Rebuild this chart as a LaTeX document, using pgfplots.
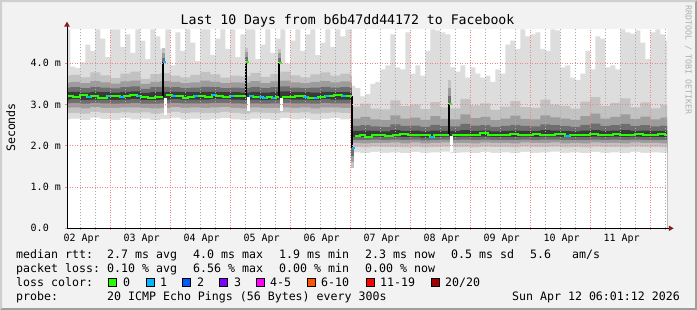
\documentclass[border=0pt]{standalone}
\usepackage{pgfplots}
\pgfplotsset{compat=1.18}
\usepackage{pgfplotstable}
\usepackage{fontspec}
\setmainfont{DejaVu Sans Mono}
\newcommand\legfont{\fontsize{11.6bp}{13bp}\selectfont}
\newcommand\tickfont{\fontsize{10bp}{12bp}\selectfont}
\newcommand\titlefont{\fontsize{13.2bp}{15bp}\selectfont}
\newcommand\smallfont{\fontsize{8.3bp}{10bp}\selectfont}

\definecolor{bgc}{HTML}{F2F2F2}
\definecolor{shadea}{HTML}{CFCFCF}
\definecolor{shadeb}{HTML}{9E9E9E}
\definecolor{arrowc}{HTML}{8B1A1A}
\definecolor{bandA}{HTML}{DDDDDD}
\definecolor{bandB}{HTML}{C2C2C2}
\definecolor{bandC}{HTML}{9C9C9C}
\definecolor{bandD}{HTML}{6E6E6E}
\definecolor{bandE}{HTML}{3A3A3A}
\definecolor{loss0}{HTML}{26FF00}
\definecolor{loss1}{HTML}{00B8FF}
\definecolor{loss2}{HTML}{0059FF}
\definecolor{loss3}{HTML}{7E00FF}
\definecolor{loss5}{HTML}{FF00FF}
\definecolor{loss10}{HTML}{FF5500}
\definecolor{loss19}{HTML}{FF0000}
\definecolor{loss20}{HTML}{A00000}
\definecolor{gridc}{HTML}{ABABAB}
\definecolor{mgridc}{HTML}{EE8888}
\definecolor{rrdc}{HTML}{B0B0B0}

\pgfplotsset{medline/.style={loss0, line width=2bp, const plot, mark=none}}

% smoke percentiles (ms), hours since 02 Apr 00:00
\pgfplotstableread{
h     p1   p3   p5   p7   p9   p12  p14  p16  p18
4     2.64 2.79 2.92 3.03 3.12 3.30 3.41 3.53 3.70
8     2.66 2.80 2.93 3.04 3.13 3.31 3.42 3.55 3.72
12    2.62 2.78 2.91 3.02 3.11 3.29 3.40 3.52 3.66
16    2.68 2.82 2.94 3.04 3.12 3.31 3.43 3.57 3.78
20    2.65 2.80 2.92 3.03 3.12 3.30 3.41 3.54 3.71
24    2.63 2.79 2.92 3.02 3.11 3.29 3.39 3.51 3.64
28    2.67 2.81 2.93 3.03 3.12 3.31 3.42 3.56 3.75
32    2.64 2.80 2.93 3.04 3.13 3.32 3.44 3.58 3.80
36    2.66 2.81 2.92 3.02 3.11 3.28 3.38 3.50 3.62
40    2.62 2.78 2.91 3.02 3.11 3.30 3.42 3.55 3.74
44    2.65 2.80 2.92 3.03 3.12 3.31 3.43 3.57 3.76
48    2.68 2.82 2.94 3.04 3.13 3.31 3.42 3.55 3.70
52    2.64 2.79 2.92 3.03 3.12 3.30 3.40 3.52 3.66
56    2.66 2.81 2.93 3.03 3.12 3.30 3.41 3.54 3.72
60    2.63 2.79 2.92 3.03 3.12 3.31 3.43 3.58 3.79
64    2.65 2.80 2.93 3.04 3.13 3.31 3.42 3.55 3.73
68    2.67 2.82 2.94 3.04 3.13 3.30 3.40 3.52 3.65
72    2.64 2.80 2.92 3.03 3.12 3.30 3.41 3.54 3.70
76    2.62 2.78 2.91 3.02 3.11 3.29 3.40 3.53 3.68
80    2.66 2.81 2.93 3.03 3.12 3.31 3.43 3.57 3.77
84    2.65 2.80 2.92 3.02 3.11 3.29 3.40 3.52 3.67
88    2.63 2.79 2.92 3.03 3.12 3.30 3.42 3.56 3.74
92    2.67 2.81 2.93 3.04 3.13 3.32 3.44 3.58 3.80
96    2.64 2.80 2.92 3.03 3.12 3.30 3.41 3.54 3.71
100   2.66 2.81 2.93 3.03 3.12 3.30 3.40 3.52 3.66
104   2.62 2.78 2.91 3.02 3.11 3.29 3.41 3.55 3.73
108   2.65 2.80 2.93 3.04 3.13 3.31 3.43 3.57 3.78
112   2.67 2.81 2.93 3.03 3.12 3.30 3.41 3.54 3.70
116   2.64 2.79 2.92 3.03 3.12 3.30 3.42 3.56 3.75
120   2.66 2.80 2.92 3.03 3.12 3.30 3.41 3.53 3.69
120.6 1.84 1.97 2.07 2.14 2.21 2.36 2.48 2.66 2.95
124   1.82 1.96 2.06 2.14 2.21 2.37 2.50 2.70 3.02
128   1.85 1.98 2.07 2.15 2.22 2.36 2.47 2.64 2.90
132   1.83 1.97 2.07 2.14 2.21 2.35 2.46 2.62 2.88
136   1.84 1.97 2.08 2.15 2.22 2.38 2.52 2.74 3.10
140   1.82 1.96 2.06 2.14 2.21 2.36 2.48 2.66 2.96
144   1.85 1.98 2.08 2.15 2.22 2.37 2.49 2.68 3.00
148   1.83 1.96 2.06 2.13 2.20 2.35 2.46 2.63 2.89
152   1.84 1.97 2.07 2.14 2.21 2.37 2.51 2.72 3.06
156   1.86 1.98 2.08 2.15 2.22 2.36 2.48 2.65 2.93
160   1.83 1.97 2.07 2.14 2.21 2.36 2.47 2.64 2.91
164   1.84 1.97 2.07 2.15 2.22 2.38 2.53 2.76 3.14
168   1.82 1.96 2.06 2.14 2.21 2.36 2.49 2.67 2.98
172   1.85 1.98 2.08 2.15 2.22 2.37 2.50 2.70 3.03
176   1.83 1.97 2.07 2.14 2.21 2.35 2.46 2.62 2.87
180   1.84 1.97 2.07 2.14 2.21 2.36 2.48 2.66 2.95
184   1.82 1.96 2.06 2.14 2.21 2.37 2.51 2.73 3.08
188   1.85 1.98 2.08 2.15 2.22 2.36 2.48 2.65 2.94
192   1.83 1.97 2.07 2.14 2.21 2.36 2.47 2.64 2.92
196   1.84 1.97 2.07 2.15 2.22 2.38 2.52 2.74 3.12
200   1.86 1.98 2.08 2.15 2.22 2.37 2.50 2.69 3.00
204   1.83 1.96 2.06 2.14 2.21 2.36 2.48 2.66 2.96
208   1.84 1.97 2.07 2.14 2.21 2.35 2.46 2.63 2.90
212   1.82 1.96 2.06 2.14 2.21 2.37 2.51 2.72 3.07
216   1.85 1.98 2.08 2.15 2.22 2.38 2.54 2.78 3.18
220   1.83 1.97 2.07 2.14 2.21 2.36 2.48 2.66 2.97
224   1.84 1.97 2.07 2.15 2.22 2.37 2.50 2.70 3.04
228   1.82 1.96 2.06 2.14 2.21 2.38 2.53 2.76 3.15
232   1.85 1.98 2.08 2.15 2.22 2.36 2.48 2.65 2.93
236   1.83 1.97 2.07 2.14 2.21 2.37 2.50 2.71 3.05
240   1.84 1.97 2.07 2.14 2.21 2.36 2.47 2.64 2.91
244   1.83 1.96 2.06 2.14 2.21 2.36 2.49 2.68 2.99
248   1.83 1.96 2.06 2.14 2.21 2.36 2.49 2.68 2.99
}\smoke

% maximum rtt (top of the light smoke)
\pgfplotstableread{
h     mx
6     4.82
8     3.92
10    3.88
12    4.02
14    4.45
16    4.30
18    4.82
20    4.60
22    4.15
24    4.82
26    4.82
28    4.40
30    4.70
32    4.25
34    4.82
36    4.55
38    4.10
40    4.82
42    4.65
44    4.35
46    4.82
48    3.95
50    4.75
52    4.30
54    4.82
56    4.50
58    4.05
60    4.82
62    4.82
64    4.20
66    4.60
68    4.82
70    4.35
72    4.82
74    4.15
76    4.70
78    4.82
80    4.82
82    4.10
84    4.45
86    4.82
88    4.25
90    4.60
92    4.82
94    4.00
96    4.55
98    4.82
100   4.30
102   4.70
104   4.82
106   4.20
108   4.50
110   4.82
112   4.40
114   4.82
116   4.65
118   4.82
120.6 3.45
122   3.40
124   3.20
126   3.25
128   3.50
130   3.55
132   3.85
134   3.95
136   4.70
138   3.90
140   3.85
142   4.75
144   3.75
146   3.95
148   3.70
150   4.30
152   4.82
154   4.80
156   4.75
158   4.70
160   3.90
162   3.80
164   3.95
166   3.65
168   3.90
170   3.75
172   3.65
174   3.70
176   3.55
178   3.85
180   3.75
182   4.45
184   4.55
186   4.35
188   4.82
190   4.65
192   4.70
194   4.75
196   4.35
198   4.30
200   4.82
202   4.80
204   3.90
206   3.95
208   3.65
210   3.60
212   3.75
214   4.30
216   3.85
218   4.65
220   4.60
222   3.90
224   3.95
226   3.85
228   4.82
230   4.75
232   4.72
234   4.80
236   4.50
238   4.10
240   4.75
242   4.82
244   4.70
246   4.55
248   4.55
}\maxtab

% loss colour 1 pieces of the median line
\pgfplotstableread{
h m
14.7 3.19
16.2 3.19
nan nan
22.7 3.20
24.2 3.20
nan nan
27.9 3.19
29.4 3.19
nan nan
34.7 3.20
36.2 3.20
nan nan
45.0 4.02
46.4 4.02
nan nan
48.7 3.21
50.2 3.21
nan nan
57.5 3.20
59.0 3.20
nan nan
64.7 3.22
66.2 3.22
nan nan
71.9 3.21
73.4 3.21
nan nan
79.6 3.20
81.1 3.20
nan nan
83.5 3.18
85.0 3.18
nan nan
85.0 3.16
86.5 3.16
nan nan
88.7 3.17
90.2 3.17
nan nan
101.5 3.18
103.0 3.18
nan nan
105.5 3.16
107.0 3.16
nan nan
109.9 3.20
111.4 3.20
nan nan
116.7 3.20
118.2 3.20
nan nan
120.6 1.94
121.8 1.94
nan nan
151.9 2.22
153.5 2.22
nan nan
205.9 2.23
207.9 2.23
}\lossone

\begin{document}
\begin{tikzpicture}
\path[use as bounding box] (0,0) rectangle (697bp,-310bp);
\fill[bgc] (0,0) rectangle (697bp,-310bp);
\fill[shadea] (0,0) -- (697bp,0) -- (695bp,-2bp) -- (2bp,-2bp) -- (2bp,-308bp) -- (0,-310bp) -- cycle;
\fill[shadeb] (697bp,0) -- (697bp,-310bp) -- (0,-310bp) -- (2bp,-308bp) -- (695bp,-308bp) -- (695bp,-2bp) -- cycle;

\begin{axis}[
  at={(67bp,-228.3bp)}, anchor=south west,
  scale only axis, width=600bp, height=199bp,
  xmin=6.68, xmax=246.68, ymin=0, ymax=4.824,
  axis on top,
  axis background/.style={fill=white},
  axis lines*=left,
  axis line style={black, line width=1bp},
  tick align=outside,
  major tick length=2bp, minor tick length=2bp,
  tick style={gridc, line width=0.8bp},
  xtick={12,36,...,228},
  xticklabels={02 Apr,03 Apr,04 Apr,05 Apr,06 Apr,07 Apr,08 Apr,09 Apr,10 Apr,11 Apr},
  xticklabel style={font=\tickfont, xshift=1.4bp},
  minor xtick={18,30,...,246},
  ytick=\empty,
  minor ytick={0.2,0.4,0.6,0.8,1.2,1.4,1.6,1.8,2.2,2.4,2.6,2.8,3.2,3.4,3.6,3.8,4.2,4.4,4.6,4.8},
  xmajorgrids=true, xminorgrids=true, yminorgrids=true,
  major grid style={gridc, line width=0.8bp, dash pattern=on 1bp off 2bp},
  minor grid style={gridc, line width=0.8bp, dash pattern=on 1bp off 2bp},
  extra x ticks={24,48,...,240},
  extra x tick labels={},
  extra x tick style={grid=major, major grid style={mgridc, line width=0.8bp, dash pattern=on 1bp off 1.5bp}, tick style={mgridc}},
  extra y ticks={0,1,2,3,4},
  extra y tick labels={0.0,1.0 m,2.0 m,3.0 m,4.0 m},
  extra y tick style={grid=major, major grid style={mgridc, line width=0.8bp, dash pattern=on 1bp off 1.5bp}, tick style={mgridc}, yticklabel style={anchor=west, font=\tickfont, xshift=-37.8bp}},
]
% smoke layers (painter's order)
\addplot[fill=bandA, draw=none, const plot] table[x=h, y=mx] {\maxtab} \closedcycle;
\addplot[fill=bandB, draw=none, const plot] table[x=h, y=p18] {\smoke} \closedcycle;
\addplot[fill=bandC, draw=none, const plot] table[x=h, y=p16] {\smoke} \closedcycle;
\addplot[fill=bandD, draw=none, const plot] table[x=h, y=p14] {\smoke} \closedcycle;
\addplot[fill=bandE, draw=none, const plot] table[x=h, y=p12] {\smoke} \closedcycle;
\addplot[fill=bandD, draw=none, const plot] table[x=h, y=p9] {\smoke} \closedcycle;
\addplot[fill=bandC, draw=none, const plot] table[x=h, y=p7] {\smoke} \closedcycle;
\addplot[fill=bandB, draw=none, const plot] table[x=h, y=p5] {\smoke} \closedcycle;
\addplot[fill=bandA, draw=none, const plot] table[x=h, y=p3] {\smoke} \closedcycle;
\addplot[fill=white, draw=none, const plot] table[x=h, y=p1] {\smoke} \closedcycle;

% slots whose pings sat high: no smoke below, dark smoke above the top
\addplot[fill=white, draw=none] coordinates {(45.3,2.75) (46.6,2.75) (46.6,3.165) (45.3,3.165)};
\addplot[fill=white, draw=none] coordinates {(78.5,2.85) (79.8,2.85) (79.8,3.185) (78.5,3.185)};
\addplot[fill=white, draw=none] coordinates {(91.7,2.85) (93.0,2.85) (93.0,3.155) (91.7,3.155)};
\addplot[fill=white, draw=none] coordinates {(159.7,1.84) (161.0,1.84) (161.0,2.245) (159.7,2.245)};
\addplot[fill=bandB, draw=none] coordinates {(44.6,4.04) (46.0,4.04) (46.0,4.36) (44.6,4.36)};
\addplot[fill=bandC, draw=none] coordinates {(44.6,4.04) (46.0,4.04) (46.0,4.26) (44.6,4.26)};
\addplot[fill=bandD, draw=none] coordinates {(44.6,4.04) (46.0,4.04) (46.0,4.14) (44.6,4.14)};
\addplot[fill=bandB, draw=none] coordinates {(77.8,4.06) (79.2,4.06) (79.2,4.38) (77.8,4.38)};
\addplot[fill=bandC, draw=none] coordinates {(77.8,4.06) (79.2,4.06) (79.2,4.28) (77.8,4.28)};
\addplot[fill=bandD, draw=none] coordinates {(77.8,4.06) (79.2,4.06) (79.2,4.16) (77.8,4.16)};
\addplot[fill=bandB, draw=none] coordinates {(91.0,4.03) (92.4,4.03) (92.4,4.34) (91.0,4.34)};
\addplot[fill=bandC, draw=none] coordinates {(91.0,4.03) (92.4,4.03) (92.4,4.24) (91.0,4.24)};
\addplot[fill=bandD, draw=none] coordinates {(91.0,4.03) (92.4,4.03) (92.4,4.13) (91.0,4.13)};
\addplot[fill=bandB, draw=none] coordinates {(159.0,3.03) (160.4,3.03) (160.4,3.60) (159.0,3.60)};
\addplot[fill=bandC, draw=none] coordinates {(159.0,3.03) (160.4,3.03) (160.4,3.40) (159.0,3.40)};
\addplot[fill=bandD, draw=none] coordinates {(159.0,3.03) (160.4,3.03) (160.4,3.20) (159.0,3.20)};
\addplot[fill=bandB, draw=none] coordinates {(120.4,1.46) (121.6,1.46) (121.6,1.94) (120.4,1.94)};
\addplot[fill=bandC, draw=none] coordinates {(120.4,1.60) (121.6,1.60) (121.6,1.94) (120.4,1.94)};
\addplot[fill=bandD, draw=none] coordinates {(120.4,1.75) (121.6,1.75) (121.6,1.94) (120.4,1.94)};

% black jumps of the median
\addplot[black, line width=1.5bp, mark=none] coordinates {(45.0,3.19) (45.0,4.02)};
\addplot[black, line width=1.5bp, mark=none] coordinates {(78.2,3.21) (78.2,4.04)};
\addplot[black, line width=1.5bp, mark=none] coordinates {(91.4,3.18) (91.4,4.01)};
\addplot[black, line width=1.5bp, mark=none] coordinates {(120.6,3.21) (120.6,1.94)};
\addplot[black, line width=1.5bp, mark=none] coordinates {(159.4,2.27) (159.4,3.01)};

% median rtt, loss 0
\addplot[medline] coordinates {(6,3.21) (9,3.19) (12,3.22) (14.7,3.19) (16.2,3.20) (19,3.17) (22.7,3.20) (24.2,3.21) (27.9,3.19) (29.4,3.20) (32,3.23) (34.7,3.20) (36.2,3.19) (39,3.17) (42,3.19) (45,3.19)};
\addplot[medline] coordinates {(46.4,3.22) (48.7,3.21) (50.2,3.20) (53,3.17) (55,3.18) (57.5,3.20) (59,3.21) (62,3.19) (64.7,3.22) (66.2,3.21) (69,3.19) (71.9,3.21) (73.4,3.20) (76,3.21) (78.2,3.21)};
\addplot[medline] coordinates {(78.2,4.04) (79.6,4.04)};
\addplot[medline] coordinates {(79.6,3.20) (81.1,3.19) (83.5,3.18) (85,3.16) (86.5,3.18) (88.7,3.17) (90.2,3.18) (91.4,3.18)};
\addplot[medline] coordinates {(91.4,4.01) (92.8,4.01)};
\addplot[medline] coordinates {(92.8,3.19) (95,3.19) (98,3.21) (101.5,3.18) (103,3.17) (105.5,3.16) (107,3.18) (109.9,3.20) (111.4,3.21) (113.5,3.23) (116.7,3.20) (118.2,3.21) (120.6,3.21)};
\addplot[medline] coordinates {(121.8,2.24) (124,2.27) (126,2.22) (128.5,2.25) (131,2.27) (134,2.24) (137,2.26) (140,2.28) (143,2.25) (146,2.27) (149,2.26) (151.9,2.22) (153.5,2.25) (156,2.27) (159.4,2.27)};
\addplot[medline] coordinates {(159.4,3.01) (160.8,3.01)};
\addplot[medline] coordinates {(160.8,2.26) (163,2.27) (166,2.25) (169,2.27) (172,2.30) (175,2.27) (178,2.26) (181,2.27) (184,2.28) (187,2.26) (190,2.27) (193,2.29) (196,2.27) (199,2.26) (202,2.28) (205.9,2.23) (207.9,2.26) (210,2.27) (213,2.26) (216,2.29) (219,2.27) (222,2.25) (225,2.28) (228,2.27) (231,2.26) (234,2.28) (237,2.25) (240,2.27) (243,2.28) (246,2.27) (248,2.27)};
% median rtt, loss 1
\addplot[loss1, line width=2bp, mark=none, unbounded coords=jump] table[x=h, y=m] {\lossone};
\end{axis}

% axis arrows
\draw[black, line width=1bp] (67bp,-228.3bp) -- (669.5bp,-228.3bp);
\draw[black, line width=1bp] (67bp,-228.3bp) -- (67bp,-26bp);
\fill[arrowc] (67bp,-21.7bp) -- (64.2bp,-26.5bp) -- (69.8bp,-26.5bp) -- cycle;
\fill[arrowc] (673.6bp,-228.3bp) -- (668.8bp,-225.5bp) -- (668.8bp,-231.1bp) -- cycle;

% title and side texts
\node[anchor=base, inner sep=0pt, font=\titlefont] at (347.5bp,-24bp) {Last 10 Days from b6b47dd44172 to Facebook};
\node[anchor=base, inner sep=0pt, rotate=90, font=\legfont] at (15bp,-127.5bp) {Seconds};
\node[anchor=base, inner sep=0pt, rotate=-90, font=\smallfont, text=rrdc] at (685.5bp,-60bp) {RRDTOOL / TOBI OETIKER};

% legend
\begin{scope}[every node/.style={anchor=base west, inner sep=0pt, font=\legfont}]
\node at (16bp,-258bp) {median rtt:};
\node at (107bp,-258bp) {2.7 ms avg};
\node at (193bp,-258bp) {4.0 ms max};
\node at (279bp,-258bp) {1.9 ms min};
\node at (365bp,-258bp) {2.3 ms now};
\node at (451bp,-258bp) {0.5 ms sd};
\node at (530bp,-258bp) {5.6};
\node at (572bp,-258bp) {am/s};
\node at (16bp,-272bp) {packet loss:};
\node at (107bp,-272bp) {0.10 \% avg};
\node at (193bp,-272bp) {6.56 \% max};
\node at (279bp,-272bp) {0.00 \% min};
\node at (365bp,-272bp) {0.00 \% now};
\node at (16bp,-286bp) {loss color:};
\node at (123bp,-286bp) {0};
\node at (160bp,-286bp) {1};
\node at (197bp,-286bp) {2};
\node at (234bp,-286bp) {3};
\node at (270bp,-286bp) {4-5};
\node at (321bp,-286bp) {6-10};
\node at (380bp,-286bp) {11-19};
\node at (445bp,-286bp) {20/20};
\node at (16bp,-300bp) {probe:};
\node at (107bp,-300bp) {20 ICMP Echo Pings (56 Bytes) every 300s};
\node[anchor=base east] at (680bp,-300bp) {Sun Apr 12 06:01:12 2026};
\end{scope}
\begin{scope}[line width=1bp, draw=black]
\filldraw[fill=loss0] (108.5bp,-278.2bp) rectangle (116.5bp,-286.2bp);
\filldraw[fill=loss1] (146.5bp,-278.2bp) rectangle (154.5bp,-286.2bp);
\filldraw[fill=loss2] (182.5bp,-278.2bp) rectangle (190.5bp,-286.2bp);
\filldraw[fill=loss3] (219.5bp,-278.2bp) rectangle (227.5bp,-286.2bp);
\filldraw[fill=loss5] (256.5bp,-278.2bp) rectangle (264.5bp,-286.2bp);
\filldraw[fill=loss10] (307.5bp,-278.2bp) rectangle (315.5bp,-286.2bp);
\filldraw[fill=loss19] (366.5bp,-278.2bp) rectangle (374.5bp,-286.2bp);
\filldraw[fill=loss20] (431.5bp,-278.2bp) rectangle (439.5bp,-286.2bp);
\end{scope}
\end{tikzpicture}
\end{document}
